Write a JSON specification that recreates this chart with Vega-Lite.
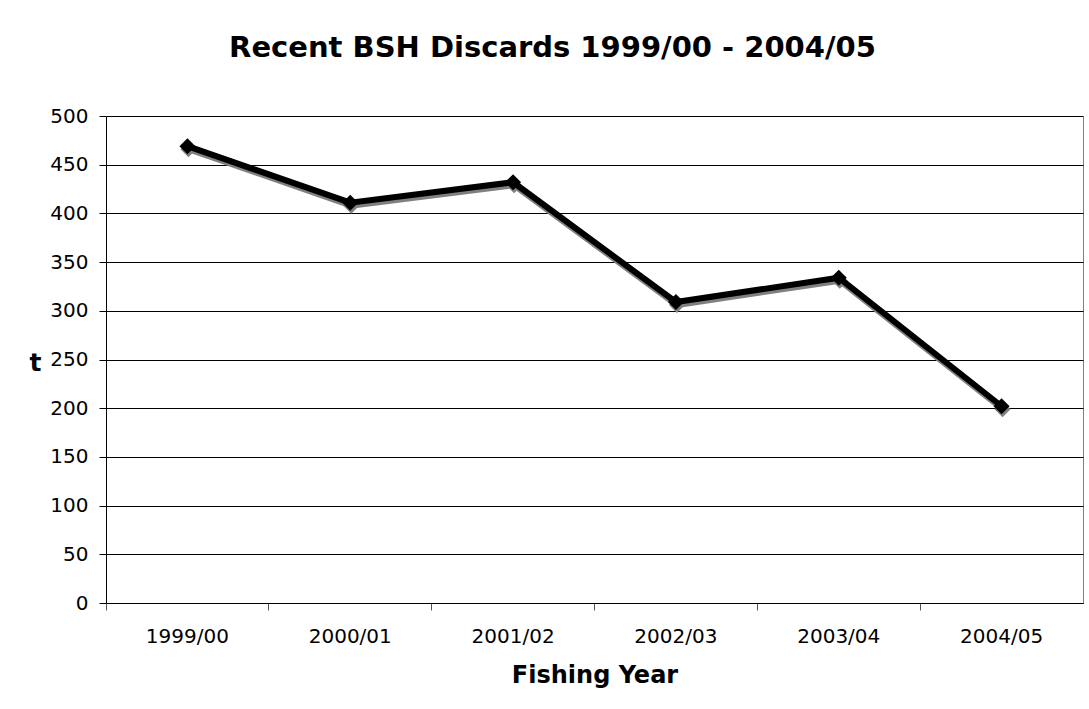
{
  "$schema": "https://vega.github.io/schema/vega-lite/v6.json",
  "autosize": {"type": "none"},
  "padding": {"left": 106, "top": 116, "right": 6, "bottom": 106},
  "width": 977,
  "height": 487,
  "background": "white",
  "title": {
    "text": "Recent BSH Discards 1999/00 - 2004/05",
    "font": "DejaVu Sans",
    "fontSize": 29,
    "fontWeight": "bold",
    "color": "black",
    "anchor": "middle",
    "frame": "group",
    "dx": -42,
    "offset": 43
  },
  "config": {
    "view": {"stroke": "#808080", "strokeWidth": 1},
    "axis": {
      "labelFont": "DejaVu Sans",
      "titleFont": "DejaVu Sans",
      "labelColor": "black",
      "titleColor": "black"
    }
  },
  "data": {
    "values": [
      {"year": "1999/00", "t": 469},
      {"year": "2000/01", "t": 411},
      {"year": "2001/02", "t": 432},
      {"year": "2002/03", "t": 309},
      {"year": "2003/04", "t": 334},
      {"year": "2004/05", "t": 202}
    ]
  },
  "encoding": {
    "x": {
      "field": "year",
      "type": "nominal",
      "sort": null,
      "scale": {"type": "band", "paddingInner": 0, "paddingOuter": 0},
      "axis": {
        "title": "Fishing Year",
        "titleFontSize": 24,
        "titleFontWeight": "bold",
        "titleBaseline": "alphabetic",
        "titleY": 79,
        "labelFontSize": 20,
        "labelAngle": 0,
        "labelPadding": 16,
        "bandPosition": 0,
        "tickSize": 7,
        "tickColor": "#555",
        "domainColor": "black",
        "grid": false
      }
    },
    "y": {
      "field": "t",
      "type": "quantitative",
      "scale": {"domain": [0, 500], "nice": false},
      "axis": {
        "title": "t",
        "titleAngle": 0,
        "titleFontSize": 25,
        "titleFontWeight": "bold",
        "titleAlign": "center",
        "titleBaseline": "alphabetic",
        "titleX": -71,
        "titleY": 254,
        "values": [0, 50, 100, 150, 200, 250, 300, 350, 400, 450, 500],
        "labelFontSize": 20,
        "labelPadding": 11,
        "tickSize": 7,
        "tickColor": "black",
        "domainColor": "black",
        "gridColor": "black",
        "gridOpacity": 1,
        "gridWidth": 1
      }
    }
  },
  "layer": [
    {"mark": {"type": "line", "color": "#808080", "strokeWidth": 6, "xOffset": 1, "yOffset": 3}},
    {"mark": {"type": "point", "shape": "diamond", "filled": true, "color": "#808080", "size": 256, "opacity": 1, "xOffset": 1, "yOffset": 3}},
    {"mark": {"type": "line", "color": "black", "strokeWidth": 6}},
    {"mark": {"type": "point", "shape": "diamond", "filled": true, "color": "black", "size": 256, "opacity": 1}}
  ]
}
